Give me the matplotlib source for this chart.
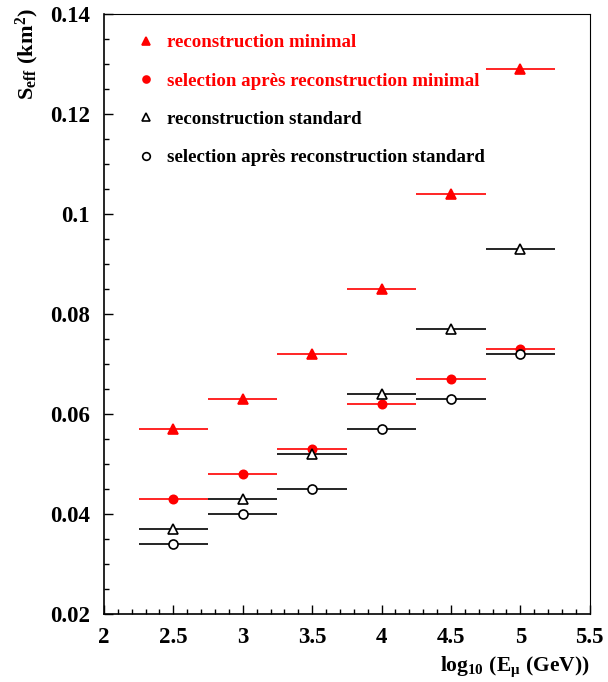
import numpy as np
import matplotlib.pyplot as plt
from matplotlib.lines import Line2D
from matplotlib.ticker import MultipleLocator

plt.rcParams['font.family'] = 'Liberation Serif'
plt.rcParams['font.weight'] = 'bold'
plt.rcParams['mathtext.fontset'] = 'custom'
plt.rcParams['mathtext.rm'] = 'Liberation Serif:bold'
plt.rcParams['mathtext.it'] = 'Liberation Serif:bold'
plt.rcParams['mathtext.bf'] = 'Liberation Serif:bold'

# log10(E) bin centres and half width
log_e = [2.5, 3.0, 3.5, 4.0, 4.5, 5.0]
half_bin = 0.25

reco_min = [0.057, 0.063, 0.072, 0.085, 0.104, 0.129]
sel_min = [0.043, 0.048, 0.053, 0.062, 0.067, 0.073]
reco_std = [0.037, 0.043, 0.052, 0.064, 0.077, 0.093]
sel_std = [0.034, 0.040, 0.045, 0.057, 0.063, 0.072]

labels = ['reconstruction minimal',
          'selection après reconstruction minimal',
          'reconstruction standard',
          'selection après reconstruction standard']

red = '#ff0000'
# data, colour, marker, face colour, marker size
series = [
    (reco_min, red, '^', red, 6.5),
    (sel_min, red, 'o', red, 6),
    (reco_std, 'black', '^', 'white', 6.5),
    (sel_std, 'black', 'o', 'white', 6.5),
]

fig = plt.figure(figsize=(6.08, 6.82), dpi=100)
ax = fig.add_axes([0.171, 0.0997, 0.799, 0.8797])

handles = []
for vals, col, mk, face, ms in series:
    ax.errorbar(log_e, vals, xerr=half_bin, fmt=mk, color=col, mfc=face, mec=col,
                ms=ms, mew=1.2, elinewidth=1.2, capsize=0, zorder=3)
    handles.append(Line2D([], [], ls='none', marker=mk, color=col, mfc=face, mec=col,
                          ms=ms - 1, mew=1.2))

leg = ax.legend(handles, labels, loc='upper left', bbox_to_anchor=(0.037, 0.995),
                frameon=False, fontsize=13.6, handlelength=0.8, handletextpad=0.7,
                labelspacing=1.12)
for txt, (vals, col, mk, face, ms) in zip(leg.get_texts(), series):
    txt.set_color(col)

ax.set_xlim(2, 5.5)
ax.set_ylim(0.02, 0.14)
ax.xaxis.set_minor_locator(MultipleLocator(0.1))
ax.yaxis.set_minor_locator(MultipleLocator(0.005))
ax.set_xticks([2, 2.5, 3, 3.5, 4, 4.5, 5, 5.5])
ax.set_xticklabels(['2', '2.5', '3', '3.5', '4', '4.5', '5', '5.5'])
ax.set_yticks([0.02, 0.04, 0.06, 0.08, 0.1, 0.12, 0.14])
ax.set_yticklabels(['0.02', '0.04', '0.06', '0.08', '0.1', '0.12', '0.14'])
ax.tick_params(which='both', direction='in', top=False, right=False, labelsize=16.5, width=1)
ax.tick_params(which='major', length=6.5)
ax.tick_params(axis='y', which='major', pad=10)
ax.tick_params(axis='x', which='major', pad=9)
ax.tick_params(which='minor', length=3.5)
for s in ax.spines.values():
    s.set_linewidth(0.8)
ax.spines['left'].set_linewidth(1.2)
ax.spines['bottom'].set_linewidth(1.2)

ax.set_ylabel(r'$S_{eff}\ (km^2)$', fontsize=16, ha='right')
ax.yaxis.set_label_coords(-0.13, 1.01)
ax.set_xlabel(r'$log_{10}\ (E_{\mu}\ (GeV))$', fontsize=15.5, ha='right')
ax.xaxis.set_label_coords(1.0, -0.068)

fig.savefig('out.png', dpi=100)
